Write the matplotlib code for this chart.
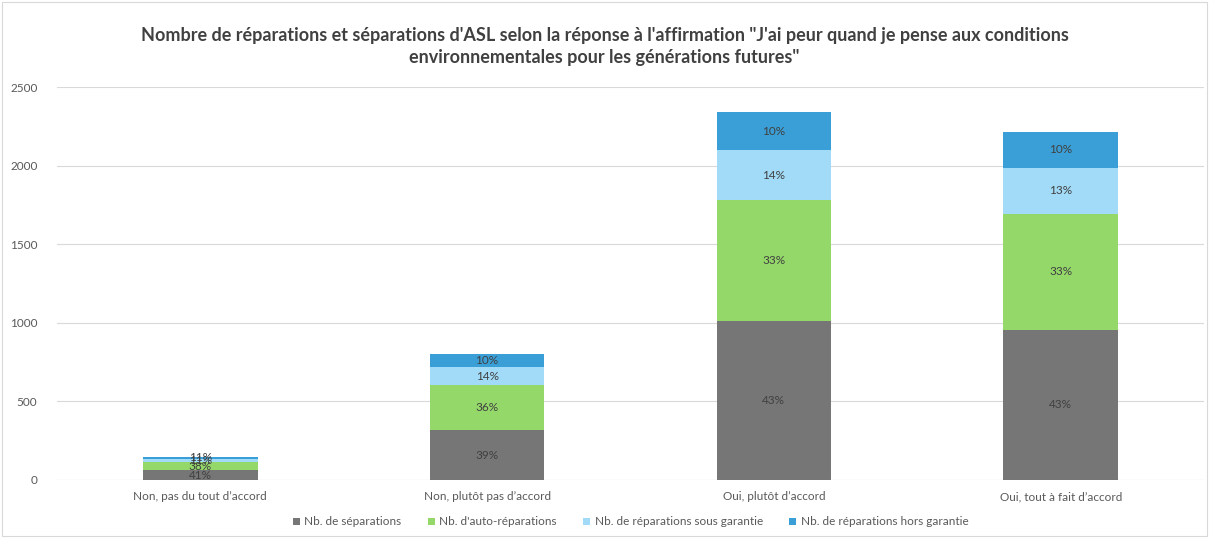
import numpy as np
import matplotlib
matplotlib.use("Agg")
import matplotlib.pyplot as plt
from matplotlib.patches import Rectangle

categories = ["Non, pas du tout d\u2019accord", "Non, plut\u00f4t pas d\u2019accord",
              "Oui, plut\u00f4t d\u2019accord", "Oui, tout \u00e0 fait d\u2019accord"]
separations = [60, 315, 1011, 955]
auto_reparations = [56, 290, 770, 740]
sous_garantie = [16, 112, 318, 290]
hors_garantie = [16, 83, 242, 232]

series = [
    ("Nb. de s\u00e9parations", separations, "#767676"),
    ("Nb. d'auto-r\u00e9parations", auto_reparations, "#95d86a"),
    ("Nb. de r\u00e9parations sous garantie", sous_garantie, "#a1dbf7"),
    ("Nb. de r\u00e9parations hors garantie", hors_garantie, "#3a9fd6"),
]

plt.rcParams['font.family'] = ['Lato', 'DejaVu Sans']

fig = plt.figure(figsize=(12.09, 5.38), dpi=100)
ax = fig.add_axes([0.047, 0.108, 0.949, 0.730])

x = np.arange(len(categories))
totals = np.sum([s[1] for s in series], axis=0)
bottom = np.zeros(len(categories))
for name, vals, color in series:
    vals = np.array(vals, dtype=float)
    ax.bar(x, vals, width=0.4, bottom=bottom, color=color, label=name, zorder=3)
    for i in range(len(x)):
        pct = vals[i] / totals[i] * 100
        ax.text(x[i], bottom[i] + vals[i] / 2, f"{pct:.0f}%", ha='center', va='center',
                fontsize=8.5, color='#404040', zorder=4)
    bottom += vals

ax.set_xlim(-0.5, len(categories) - 0.5)
ax.set_ylim(0, 2500)
ax.set_yticks(np.arange(0, 2501, 500))
ax.set_xticks(x)
ax.set_xticklabels(categories, fontsize=8.5, color='#595959')
ax.tick_params(axis='y', labelsize=8.5, labelcolor='#595959', length=0, pad=14)
ax.tick_params(axis='x', length=0, pad=8)
ax.grid(axis='y', color='#d9d9d9', linewidth=0.8, zorder=0)
for sp in ax.spines.values():
    sp.set_visible(False)
ax.axhline(0, color='#d9d9d9', linewidth=0.8, zorder=1)

fig.suptitle("Nombre de r\u00e9parations et s\u00e9parations d'ASL selon la r\u00e9ponse \u00e0 l'affirmation \"J'ai peur quand je pense aux conditions\n"
             "environnementales pour les g\u00e9n\u00e9rations futures\"",
             y=0.95, fontsize=13, fontweight='bold', color='#404040', linespacing=1.35)

ax.legend(loc='center', bbox_to_anchor=(0.5, -0.107), ncol=4, frameon=False,
          fontsize=8.5, handlelength=0.6, handleheight=0.6, columnspacing=2.2,
          handletextpad=0.4, labelcolor='#595959')

fig.patches.append(Rectangle((0.002, 0.004), 0.996, 0.992, transform=fig.transFigure,
                             fill=False, edgecolor='#d9d9d9', linewidth=0.8))

fig.savefig("out.png", dpi=100)
